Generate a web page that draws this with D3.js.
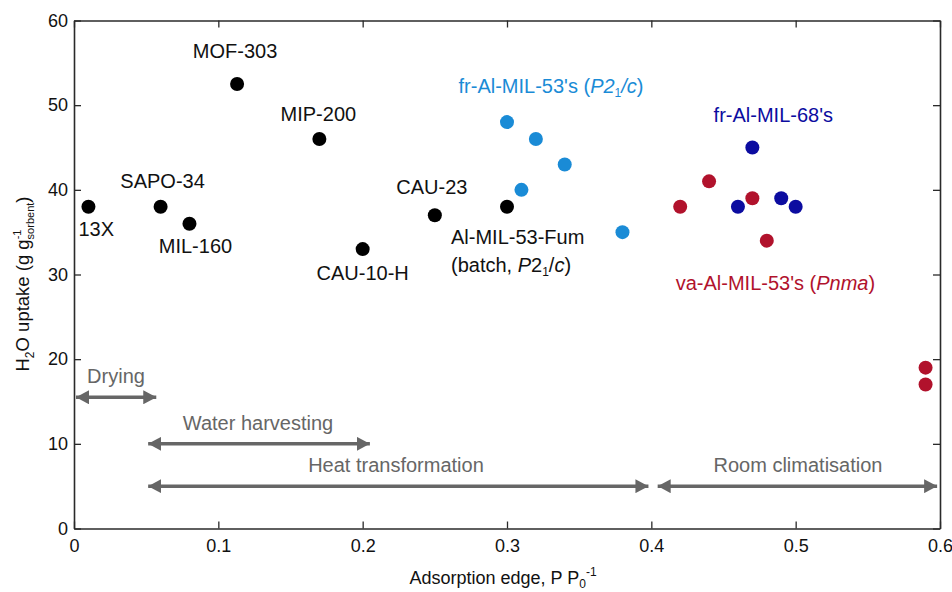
<!DOCTYPE html>
<html>
<head>
<meta charset="utf-8">
<script src="https://cdn.jsdelivr.net/npm/d3@7"></script>
<style>
  body { margin: 0; background: #fff; }
  text { font-family: "Liberation Sans", Arial, Helvetica, sans-serif; }
</style>
</head>
<body>
<svg id="chart" width="952" height="592"></svg>
<script>
// benchmark materials (black)
var refNames = ["13X", "SAPO-34", "MIL-160", "MOF-303", "MIP-200", "CAU-10-H", "CAU-23", "Al-MIL-53-Fum"];
var refEdge = [0.01, 0.06, 0.08, 0.113, 0.17, 0.20, 0.25, 0.30];
var refUptake = [38, 38, 36, 52.5, 46, 33, 37, 38];

// fr-Al-MIL-53's (P21/c)
var frMil53Edge = [0.30, 0.32, 0.34, 0.31, 0.38];
var frMil53Uptake = [48, 46, 43, 40, 35];

// fr-Al-MIL-68's
var frMil68Edge = [0.47, 0.46, 0.49, 0.50];
var frMil68Uptake = [45, 38, 39, 38];

// va-Al-MIL-53's (Pnma)
var vaMil53Edge = [0.42, 0.44, 0.47, 0.48, 0.59, 0.59];
var vaMil53Uptake = [38, 41, 39, 34, 19, 17];

// application ranges
var appNames = ["Drying", "Water harvesting", "Heat transformation", "Room climatisation"];
var appStart = [0.0, 0.05, 0.05, 0.403];
var appEnd = [0.057, 0.205, 0.398, 0.598];
var appLevel = [15.5, 10, 5, 5];

var xTicks = [0, 0.1, 0.2, 0.3, 0.4, 0.5, 0.6];
var yTicks = [0, 10, 20, 30, 40, 50, 60];

var svg = d3.select("#chart");
var plotLeft = 74, plotTop = 20.5, plotRight = 940, plotBottom = 528.5;

var x = d3.scaleLinear().domain([0, 0.6]).range([plotLeft, plotRight]);
var y = d3.scaleLinear().domain([0, 60]).range([plotBottom, plotTop]);

var axisColor = "#2a2a2a";
var arrowColor = "#666666";
var labelSize = 20;
var tickFmt = function (d) { return d === 0 ? "0" : String(d); };

// axes with inward ticks
var gx = svg.append("g").attr("transform", "translate(0," + plotBottom + ")")
    .call(d3.axisBottom(x).tickValues(xTicks).tickSizeInner(-7).tickSizeOuter(0).tickPadding(11).tickFormat(tickFmt));
var gy = svg.append("g").attr("transform", "translate(" + plotLeft + ",0)")
    .call(d3.axisLeft(y).tickValues(yTicks).tickSizeInner(-7).tickSizeOuter(0).tickPadding(6).tickFormat(tickFmt));
var gt = svg.append("g").attr("transform", "translate(0," + plotTop + ")")
    .call(d3.axisTop(x).tickValues(xTicks).tickSizeInner(-7).tickSizeOuter(0).tickFormat(""));
var gr = svg.append("g").attr("transform", "translate(" + plotRight + ",0)")
    .call(d3.axisRight(y).tickValues(yTicks).tickSizeInner(-7).tickSizeOuter(0).tickFormat(""));

[gx, gy, gt, gr].forEach(function (g) {
    g.attr("font-size", 18).attr("font-family", "'Liberation Sans', Arial, sans-serif");
    g.selectAll("path").attr("stroke", axisColor).attr("stroke-width", 1.6);
    g.selectAll("line").attr("stroke", axisColor).attr("stroke-width", 1.3);
    g.selectAll("text").attr("fill", "#111");
});

// axis titles
var xt = svg.append("text").attr("x", 503).attr("y", 584).attr("text-anchor", "middle")
    .attr("font-size", 18).attr("fill", "#111");
xt.append("tspan").text("Adsorption edge, P P");
xt.append("tspan").attr("font-size", 12).attr("dy", 4).text("0");
xt.append("tspan").attr("font-size", 12).attr("dy", -12).text("-1");

var yt = svg.append("text").attr("transform", "translate(29,284) rotate(-90)")
    .attr("text-anchor", "middle").attr("font-size", 18.5).attr("fill", "#111");
yt.append("tspan").text("H");
yt.append("tspan").attr("font-size", 12).attr("dy", 5).text("2");
yt.append("tspan").attr("dy", -5).text("O uptake (g g");
yt.append("tspan").attr("font-size", 11).attr("dy", -8).text("-1");
yt.append("tspan").attr("font-size", 11).attr("dx", -9.8).attr("dy", 13).text("sorbent");
yt.append("tspan").attr("dy", -5).text(")");

// application arrows
var defs = svg.append("defs");
defs.append("marker").attr("id", "ah").attr("viewBox", "0 0 13 14")
    .attr("refX", 13).attr("refY", 7).attr("markerWidth", 13).attr("markerHeight", 14)
    .attr("markerUnits", "userSpaceOnUse").attr("orient", "auto-start-reverse")
    .append("path").attr("d", "M0,0 L13,7 L0,14 Z").attr("fill", arrowColor);

var apps = appNames.map(function (n, i) {
    return { name: n, x0: appStart[i], x1: appEnd[i], lv: appLevel[i] };
});
svg.selectAll(".app").data(apps).enter().append("line")
    .attr("x1", function (d) { return x(d.x0) + 2; })
    .attr("x2", function (d) { return x(d.x1); })
    .attr("y1", function (d) { return y(d.lv); })
    .attr("y2", function (d) { return y(d.lv); })
    .attr("stroke", arrowColor).attr("stroke-width", 3.5)
    .attr("marker-start", "url(#ah)").attr("marker-end", "url(#ah)");

var appLabelX = [116, 258, 396, 798];
svg.selectAll(".applbl").data(apps).enter().append("text")
    .attr("x", function (d, i) { return appLabelX[i]; })
    .attr("y", function (d) { return y(d.lv) - 14; })
    .attr("text-anchor", "middle").attr("font-size", labelSize).attr("fill", arrowColor)
    .text(function (d) { return d.name; });

// points
function drawSeries(xs, ys, color) {
    var pts = xs.map(function (v, i) { return [v, ys[i]]; });
    svg.append("g").selectAll("circle").data(pts).enter().append("circle")
        .attr("cx", function (d) { return x(d[0]); })
        .attr("cy", function (d) { return y(d[1]); })
        .attr("r", 7).attr("fill", color);
}
drawSeries(refEdge, refUptake, "#000000");
drawSeries(frMil53Edge, frMil53Uptake, "#1a8bd6");
drawSeries(frMil68Edge, frMil68Uptake, "#0c0ca0");
drawSeries(vaMil53Edge, vaMil53Uptake, "#b1122c");

// material labels (offsets from their points)
var refLabelDx = [-10, 2, 6, -2, -1, 0, -3, -56];
var refLabelDy = [29, -19, 29, -26, -18, 31, -21, 37];
var refLabelAnchor = ["start", "middle", "middle", "middle", "middle", "middle", "middle", "start"];
svg.append("g").selectAll("text").data(refNames).enter().append("text")
    .attr("x", function (d, i) { return x(refEdge[i]) + refLabelDx[i]; })
    .attr("y", function (d, i) { return y(refUptake[i]) + refLabelDy[i]; })
    .attr("text-anchor", function (d, i) { return refLabelAnchor[i]; })
    .attr("font-size", labelSize).attr("fill", "#111")
    .text(function (d) { return d; });

var fum = svg.append("text")
    .attr("x", x(refEdge[7]) - 56).attr("y", y(refUptake[7]) + 65)
    .attr("font-size", labelSize).attr("fill", "#111");
fum.append("tspan").text("(batch, ");
fum.append("tspan").attr("font-style", "italic").text("P");
fum.append("tspan").text("2");
fum.append("tspan").attr("font-size", 12).attr("dy", 4).text("1");
fum.append("tspan").attr("dy", -4).text("/");
fum.append("tspan").attr("font-style", "italic").text("c");
fum.append("tspan").text(")");

// group labels
var g53 = svg.append("text").attr("x", x(0.3305)).attr("y", y(51.4))
    .attr("text-anchor", "middle").attr("font-size", labelSize).attr("fill", "#1a8bd6");
g53.append("tspan").text("fr-Al-MIL-53's (");
g53.append("tspan").attr("font-style", "italic").text("P");
g53.append("tspan").attr("font-style", "italic").text("2");
g53.append("tspan").attr("font-size", 12).attr("dy", 4).text("1");
g53.append("tspan").attr("dy", -4).attr("font-style", "italic").text("/c");
g53.append("tspan").text(")");

svg.append("text").attr("x", x(0.4845)).attr("y", y(48.0))
    .attr("text-anchor", "middle").attr("font-size", labelSize).attr("fill", "#0c0ca0")
    .text("fr-Al-MIL-68's");

var gva = svg.append("text").attr("x", x(0.486)).attr("y", y(28.2))
    .attr("text-anchor", "middle").attr("font-size", labelSize).attr("fill", "#b1122c");
gva.append("tspan").text("va-Al-MIL-53's (");
gva.append("tspan").attr("font-style", "italic").text("Pnma");
gva.append("tspan").text(")");
</script>
</body>
</html>
